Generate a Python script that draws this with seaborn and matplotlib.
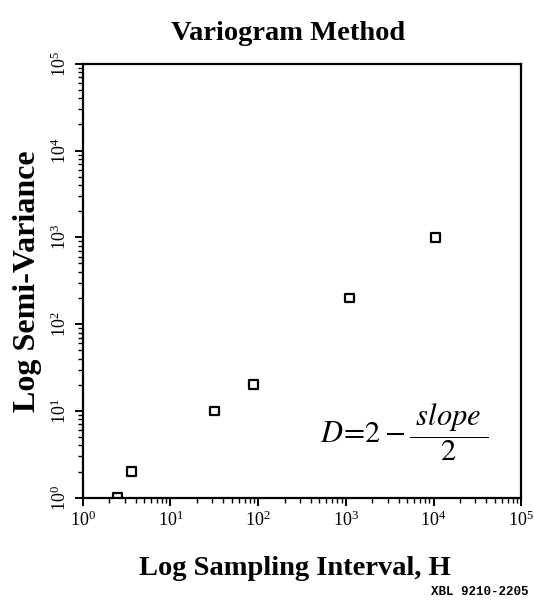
import numpy as np
import pandas as pd
import matplotlib
matplotlib.use("Agg")
import matplotlib.pyplot as plt
import matplotlib.ticker as ticker
import seaborn as sns

# Values
sampling_interval = [2.5, 3.6, 32, 88, 1100, 10500]
semi_variance = [1.0, 2.0, 10, 20, 200, 1000]

x_limits = [1, 1e5]
y_limits = [1, 1e5]

sns.set_style("ticks")
plt.rcParams["font.family"] = ["Liberation Serif", "DejaVu Serif"]
plt.rcParams["mathtext.fontset"] = "stix"
for key in ["text.color", "axes.labelcolor", "xtick.color", "ytick.color"]:
    plt.rcParams[key] = "black"

df = pd.DataFrame({"H": sampling_interval, "gamma": semi_variance})

fig = plt.figure(figsize=(5.34, 6.07), dpi=100)
ax = fig.add_axes([0.155, 0.180, 0.821, 0.715])

sns.scatterplot(data=df, x="H", y="gamma", ax=ax, marker="s", s=40,
                facecolors="none", edgecolor="black", linewidth=1.6)

ax.set_xscale("log")
ax.set_yscale("log")
ax.set_xlim(x_limits)
ax.set_ylim(y_limits)

for side in ["top", "right", "bottom", "left"]:
    ax.spines[side].set_visible(True)
    ax.spines[side].set_linewidth(1.6)
    ax.spines[side].set_color("black")

ax.xaxis.set_major_locator(ticker.LogLocator(base=10, numticks=10))
ax.yaxis.set_major_locator(ticker.LogLocator(base=10, numticks=10))
ax.xaxis.set_minor_locator(ticker.LogLocator(base=10, subs=np.arange(2, 10), numticks=20))
ax.yaxis.set_minor_locator(ticker.LogLocator(base=10, subs=np.arange(2, 10), numticks=20))
ax.xaxis.set_minor_formatter(ticker.NullFormatter())
ax.yaxis.set_minor_formatter(ticker.NullFormatter())

ax.tick_params(which="major", direction="out", length=6, width=1.4, labelsize=13,
               top=False, right=False)
ax.tick_params(which="minor", direction="out", length=3.5, width=1.0,
               top=False, right=False)
for lab in ax.get_yticklabels():
    lab.set_rotation(90)
    lab.set_va("center")

ax.set_xlabel("Log Sampling Interval, H", fontsize=20.5, fontweight="bold", labelpad=16)
ax.xaxis.set_label_coords(0.484, -0.135)
ax.set_ylabel("Log Semi-Variance", fontsize=23, fontweight="bold", labelpad=6)
ax.set_title("Variogram Method", fontsize=20.5, fontweight="bold", pad=17, x=0.468)

ax.text(0.925, 0.15, r"$D\!=\!2-\dfrac{\;\mathit{slope}\;}{2}$", transform=ax.transAxes,
        fontsize=22, ha="right", va="center")

fig.text(0.99, 0.015, "XBL 9210-2205", family="Liberation Mono", fontweight="bold",
         fontsize=9, ha="right", va="bottom")

fig.savefig("out.png", dpi=100)
